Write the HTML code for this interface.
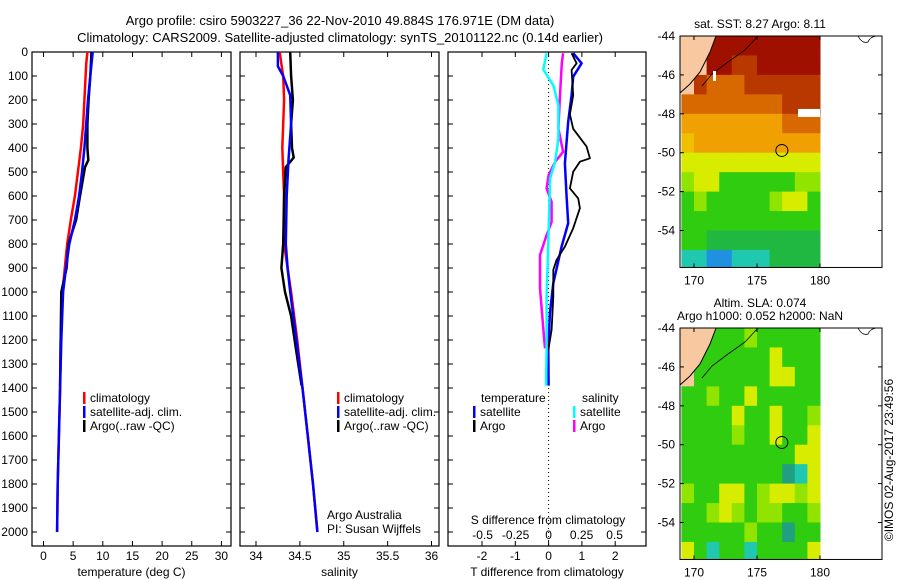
<!DOCTYPE html>
<html><head><meta charset="utf-8">
<style>
html,body{margin:0;padding:0;background:#fff;}
svg{display:block;font-family:"Liberation Sans",sans-serif;}
</style></head>
<body>
<svg id="fig" width="900" height="580" viewBox="0 0 900 580" xmlns="http://www.w3.org/2000/svg">
<text x="340" y="25" text-anchor="middle" font-size="13">Argo profile: csiro 5903227_36 22-Nov-2010 49.884S 176.971E (DM data)</text>
<text x="340" y="42" text-anchor="middle" font-size="13">Climatology: CARS2009. Satellite-adjusted climatology: synTS_20101122.nc (0.14d earlier)</text>
<g id="g1"></g>
<g id="g2"></g>
<g id="g3"></g>
<g id="m1"></g>
<g id="m2"></g>
<text transform="translate(893,460) rotate(-90)" text-anchor="middle" font-size="12">©IMOS 02-Aug-2017 23:49:56</text>
</svg>
<script>
// ---- data ----
const depthTicks=[0,100,200,300,400,500,600,700,800,900,1000,1100,1200,1300,1400,1500,1600,1700,1800,1900,2000];
const tempTicks=[0,5,10,15,20,25,30];
const salTicks=[34,34.5,35,35.5,36];
const salTickLabels=["34","34.5","35","35.5","36"];
const tdiffTicks=[-2,-1,0,1,2];
const sdiffTicks=[-0.5,-0.25,0,0.25,0.5];
const sdiffTickLabels=["-0.5","-0.25","0","0.25","0.5"];

const tClimD=[0,50,100,200,300,400,500,600,700,800,900,1000,1200,1400,1600,1800,2000];
const tClimV=[7.4,7.2,7.1,6.9,6.7,6.3,5.8,5.3,4.6,4.0,3.6,3.2,2.9,2.8,2.6,2.4,2.3];
const tSatD=[0,50,100,200,300,400,500,600,700,800,900,1000,1200,1400,1600,1800,2000];
const tSatV=[8.3,8.1,7.9,7.5,7.2,6.9,6.5,6.0,5.3,4.35,3.8,3.3,3.0,2.8,2.6,2.4,2.3];
const tArgoD=[0,100,200,300,400,450,480,600,700,800,900,1000,1200,1390];
const tArgoV=[8.1,7.9,7.6,7.4,7.4,7.55,7.0,6.15,5.5,4.2,3.9,3.0,2.9,2.8];

const sClimD=[0,50,100,200,300,400,500,600,800,1000,1200,1400,1600,1800,2000];
const sClimV=[34.27,34.29,34.31,34.32,34.31,34.30,34.31,34.32,34.32,34.40,34.47,34.53,34.59,34.65,34.70];
const sSatD=[0,60,100,180,300,450,600,800,900,1000,1200,1400,1600,1800,2000];
const sSatV=[34.25,34.25,34.31,34.39,34.40,34.37,34.35,34.34,34.36,34.39,34.46,34.53,34.59,34.65,34.70];
const sArgoD=[0,100,200,300,400,440,480,600,800,900,1000,1100,1250,1390];
const sArgoV=[34.39,34.40,34.42,34.40,34.41,34.43,34.34,34.32,34.31,34.29,34.33,34.40,34.46,34.52];

const dTsD=[5,47,103,180,290,464,603,713,811,963,1088,1242,1390];
const dTsV=[0.74,0.99,0.74,0.69,0.59,0.49,0.54,0.59,0.39,0.14,0.04,-0.01,0.0];
const dTaD=[5,47,75,180,260,320,394,443,457,499,568,610,651,734,811,866,908,1019,1158,1242];
const dTaV=[0.69,0.84,0.69,0.74,0.64,0.74,1.14,1.24,0.94,0.74,0.64,0.89,0.94,0.74,0.49,0.24,0.14,0.14,0.09,-0.01];
const dSsD=[5,73,139,222,361,458,527,749,1027,1250,1390];
const dSsV=[-0.015,-0.04,0.036,0.074,0.074,0.049,0.011,0.0,-0.015,-0.015,-0.02];
const dSaD=[5,47,180,319,416,458,513,569,624,708,763,846,985,1152,1235];
const dSaV=[0.11,0.1,0.086,0.074,0.11,0.049,0.0,-0.015,0.023,0.023,-0.015,-0.065,-0.065,-0.04,-0.027];

const lonTicks=[170,175,180];
const latTicks=[-44,-46,-48,-50,-52,-54];
const argoLon=176.971, argoLat=-49.884;
const sstGrid=["LLRRRRRRRRR","LLRRrrRRRRR","Lrooorrrrrr","oooooooorrr","OOOOOOOOooo","YOOOOOOOOOO","yyyyyyyyyyy","gyyGGGGGGgg","GgGGGGGgyyG","GGGGGGGGGGG","GGDDDDDDDDD","CCBBCCCDDDD"];
const slaGrid=["LLGGGgGGGGG","LGGGGGGyGGG","LGGGGGGyyGG","GGgGGyGGGGG","GGGGyGGyGGg","GGGGgGGyGGy","GGGGGGGGGyy","GGGGGGGGTCy","gGGyyGgyygy","GGgygGggGGg","GGGGGgGGTGG","yGCGGCGGGGy"];

// ---- helpers ----
const NS="http://www.w3.org/2000/svg";
function mk(parent,tag,attrs,text){const e=document.createElementNS(NS,tag);for(const k in attrs)e.setAttribute(k,attrs[k]);if(text!==undefined)e.textContent=text;parent.appendChild(e);return e;}
const TOP=52,BOT=546;
const yD=d=>TOP+d*0.24;

function panel(g,x0,x1,xs,ticks,labels,title,name){
  const fr=mk(g,'rect',{x:x0,y:TOP,width:x1-x0,height:BOT-TOP,fill:'none',stroke:'#000','stroke-width':1.2});
  
  ticks.forEach((t,i)=>{const x=xs(t);
    mk(g,'line',{x1:x,x2:x,y1:BOT,y2:BOT-5,stroke:'#000'});
    mk(g,'line',{x1:x,x2:x,y1:TOP,y2:TOP+5,stroke:'#000'});
    const l=mk(g,'text',{x:x,y:560,'text-anchor':'middle','font-size':12},labels[i]);
    });
  depthTicks.forEach(d=>{const y=yD(d);
    mk(g,'line',{x1:x0,x2:x0+5,y1:y,y2:y,stroke:'#000'});
    mk(g,'line',{x1:x1,x2:x1-5,y1:y,y2:y,stroke:'#000'});});
  const t=mk(g,'text',{x:(x0+x1)/2,y:576,'text-anchor':'middle','font-size':12},title);
  
}
function line(g,D,V,xs,color,w,name){
  const pts=D.map((d,i)=>xs(V[i]).toFixed(1)+','+yD(d).toFixed(1)).join(' ');
  const p=mk(g,'polyline',{points:pts,fill:'none',stroke:color,'stroke-width':w,'stroke-linejoin':'round'});
  
}
function legend(g,x,y,color,label,name){
  mk(g,'rect',{x:x,y:y-10,width:2.5,height:12,fill:color});
  const t=mk(g,'text',{x:x+7,y:y,'font-size':12},label);
  
}

// panel 1
const g1=document.getElementById('g1');
const xT=t=>43.5+t*5.93;
panel(g1,32,231,xT,tempTicks,tempTicks.map(String),'temperature (deg C)','temperature-panel');
depthTicks.forEach(d=>{const l=mk(g1,'text',{x:28,y:yD(d)+4,'text-anchor':'end','font-size':12},String(d));
  });
line(g1,tClimD,tClimV,xT,'#f00',2.5,'temp-climatology-line');
line(g1,tArgoD,tArgoV,xT,'#000',2.5,'temp-argo-line');
line(g1,tSatD,tSatV,xT,'#00f',2.5,'temp-satellite-line');
legend(g1,83,402,'#f00','climatology','legend-climatology');
legend(g1,83,416,'#00f','satellite-adj. clim.','legend-satellite');
legend(g1,83,430,'#000','Argo(..raw -QC)','legend-argo');

// panel 2
const g2=document.getElementById('g2');
const xS=s=>256+(s-34)*87.75;
panel(g2,240,439,xS,salTicks,salTickLabels,'salinity','salinity-panel');
line(g2,sClimD,sClimV,xS,'#f00',2.5,'sal-climatology-line');
line(g2,sArgoD,sArgoV,xS,'#000',2.5,'sal-argo-line');
line(g2,sSatD,sSatV,xS,'#00f',2.5,'sal-satellite-line');
legend(g2,337,402,'#f00','climatology','legend-climatology');
legend(g2,337,416,'#00f','satellite-adj. clim.','legend-satellite');
legend(g2,337,430,'#000','Argo(..raw -QC)','legend-argo');
[['Argo Australia',519,'argo-australia-label'],['PI: Susan Wijffels',533,'pi-label']].forEach(a=>{
  const t=mk(g2,'text',{x:327,y:a[1],'font-size':12},a[0]);});

// panel 3
const g3=document.getElementById('g3');
const xdT=v=>548.6+v*33.3;
const xdS=v=>548.6+v*132;
panel(g3,448,646,xdT,tdiffTicks,tdiffTicks.map(String),'T difference from climatology','difference-panel');
mk(g3,'line',{x1:xdT(0),x2:xdT(0),y1:TOP,y2:BOT,stroke:'#000','stroke-dasharray':'1,3'});
line(g3,dSaD,dSaV,xdS,'#f0f',2.5,'sdiff-argo-line');
line(g3,dTsD,dTsV,xdT,'#00f',2.5,'tdiff-satellite-line');
line(g3,dTaD,dTaV,xdT,'#000',1.8,'tdiff-argo-line');
line(g3,dSsD,dSsV,xdS,'#0ff',2.5,'sdiff-satellite-line');
mk(g3,'rect',{x:480,y:392,width:66,height:12,fill:'#fff'});
let tt=mk(g3,'text',{x:481,y:402,'font-size':12},'temperature');
tt=mk(g3,'text',{x:582,y:402,'font-size':12},'salinity');
legend(g3,473,416,'#00f','satellite','legend-t-satellite');
legend(g3,473,430,'#000','Argo','legend-t-argo');
legend(g3,573,416,'#0ff','satellite','legend-s-satellite');
legend(g3,573,430,'#f0f','Argo','legend-s-argo');
tt=mk(g3,'text',{x:548,y:524,'text-anchor':'middle','font-size':12},'S difference from climatology');
sdiffTicks.forEach((v,i)=>{const t=mk(g3,'text',{x:xdS(v),y:539,'text-anchor':'middle','font-size':12},sdiffTickLabels[i]);
  });

// maps
const COL={L:'#f8c8a0',R:'#a01000',r:'#b83800',o:'#d86800',O:'#f0a000',Y:'#f0c000',y:'#d8ec00',g:'#90e400',G:'#30cc10',D:'#20b840',C:'#20c8b0',B:'#2090e0',T:'#20a080'};
function map(g,top,grid,titles,name){
  const x0=680,x1=882;
  const xL=l=>694+(l-170)*12.6;
  const yL=a=>top+(-44-a)*19.45;
  const bot=yL(-55.9);
  grid.forEach((row,r)=>{for(let c=0;c<row.length;c++){
    const xa=Math.max(x0,xL(169+c)),xb=xL(170+c);
    const ya=yL(-44-r),yb=Math.min(bot,yL(-45-r));
    mk(g,'rect',{x:xa,y:ya,width:xb-xa+0.5,height:yb-ya+0.5,fill:COL[row[c]]});}});
  // land
  mk(g,'polygon',{points:`680,${top} 716,${top} 710,${top+16} 700,${top+36} 690,${top+48} 680,${top+57}`,fill:COL.L});
  mk(g,'polyline',{points:`680,${top+57} 690,${top+48} 700,${top+36} 710,${top+16} 716,${top}`,fill:'none',stroke:'#000','stroke-width':1});
  mk(g,'polyline',{points:`702,${top+50} 712,${top+38} 728,${top+26} 745,${top+14} 758,${top}`,fill:'none',stroke:'#000','stroke-width':0.8});
  mk(g,'path',{d:`M858,${top} q4,8 10,6 q2,-5 8,-6`,fill:'none',stroke:'#000','stroke-width':0.8});
  const fr=mk(g,'rect',{x:x0,y:top,width:x1-x0,height:bot-top,fill:'none',stroke:'#000','stroke-width':1});
  
  lonTicks.forEach(l=>{const x=xL(l);mk(g,'line',{x1:x,x2:x,y1:bot,y2:bot-4,stroke:'#000'});mk(g,'line',{x1:x,x2:x,y1:top,y2:top+4,stroke:'#000'});
    const t=mk(g,'text',{x:x,y:bot+17,'text-anchor':'middle','font-size':12},String(l));});
  latTicks.forEach(a=>{const y=yL(a);mk(g,'line',{x1:x0,x2:x0+4,y1:y,y2:y,stroke:'#000'});mk(g,'line',{x1:x1,x2:x1-4,y1:y,y2:y,stroke:'#000'});
    const t=mk(g,'text',{x:675,y:y+4,'text-anchor':'end','font-size':12},String(a));});
  const c=mk(g,'circle',{cx:xL(argoLon),cy:yL(argoLat),r:6,fill:'none',stroke:'#000','stroke-width':1});
  
  titles.forEach((s,i)=>{const t=mk(g,'text',{x:760,y:top-8-13*(titles.length-1-i),'text-anchor':'middle','font-size':12},s);
    });
  return {xL,yL};
}
const m1=document.getElementById('m1');
const a1=map(m1,36,sstGrid,['sat. SST: 8.27 Argo: 8.11'],'sst-map');
mk(m1,'rect',{x:798,y:a1.yL(-47.75),width:22,height:8,fill:'#fff'});
mk(m1,'rect',{x:713,y:a1.yL(-45.8),width:3,height:10,fill:'#fff'});
map(document.getElementById('m2'),328,slaGrid,['Altim. SLA: 0.074','Argo h1000: 0.052 h2000: NaN'],'sla-map');
</script>
</body></html>
